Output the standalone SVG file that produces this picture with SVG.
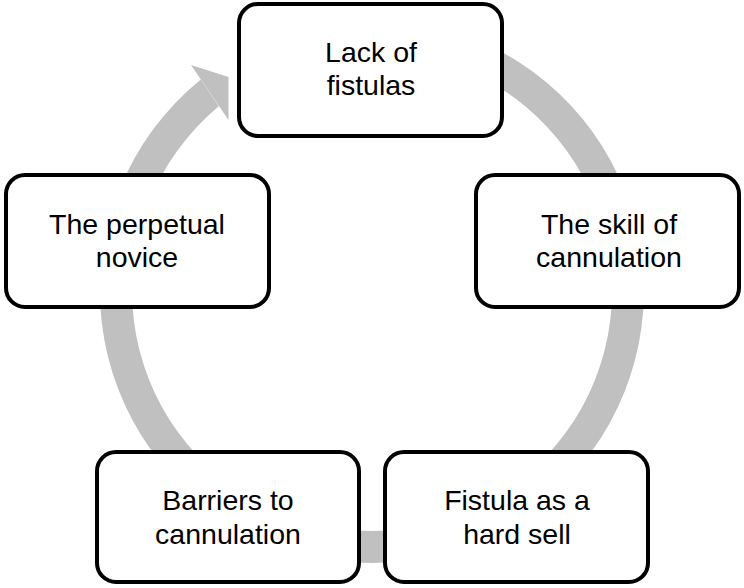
<svg xmlns="http://www.w3.org/2000/svg" width="744" height="588" viewBox="0 0 744 588">
<style>
.box{fill:#ffffff;stroke:#000000;stroke-width:4}
.lbl{font-family:"Liberation Sans",Arial,sans-serif;font-size:28.5px;fill:#000000;text-anchor:middle}
.ring{fill:#C0C0C0;stroke:none}
</style>
<rect width="744" height="588" fill="#ffffff"/>
<g id="connectors">
<path class="ring" d="M257,44.5 A272,272 0 1 1 200.8,79.6 L218.8,106.3 A240,240 0 1 0 270.6,73.5 Z"/>
<polygon class="ring" points="191,65 228.5,77 228.5,120"/>
</g>
<g id="node-lack">
<rect class="box" x="239" y="4" width="263" height="132" rx="19"/>
<text class="lbl" x="371" y="61.5">Lack of</text>
<text class="lbl" x="371" y="95">fistulas</text>
</g>
<g id="node-skill">
<rect class="box" x="476" y="175" width="263" height="132" rx="19"/>
<text class="lbl" x="609" y="233.5">The skill of</text>
<text class="lbl" x="609" y="267">cannulation</text>
</g>
<g id="node-hardsell">
<rect class="box" x="385" y="452" width="263" height="130" rx="19"/>
<text class="lbl" x="517" y="510">Fistula as a</text>
<text class="lbl" x="517" y="543.5">hard sell</text>
</g>
<g id="node-barriers">
<rect class="box" x="97" y="452" width="262" height="130" rx="19"/>
<text class="lbl" x="228" y="510">Barriers to</text>
<text class="lbl" x="228" y="543.5">cannulation</text>
</g>
<g id="node-novice">
<rect class="box" x="6" y="175" width="263" height="132" rx="19"/>
<text class="lbl" x="137" y="233.5">The perpetual</text>
<text class="lbl" x="137" y="267">novice</text>
</g>
</svg>
